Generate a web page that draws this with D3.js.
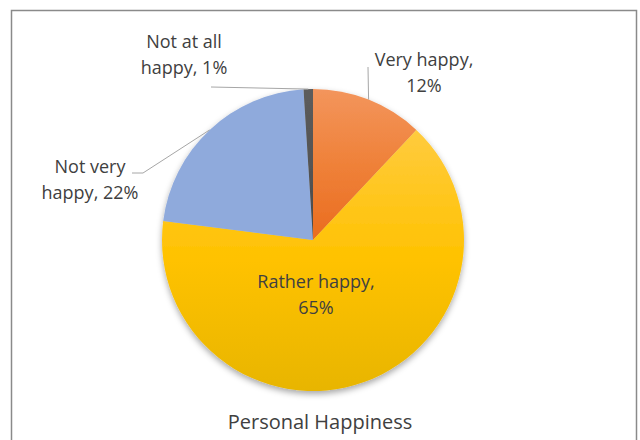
<!DOCTYPE html>
<html>
<head>
<meta charset="utf-8">
<script src="https://cdn.jsdelivr.net/npm/d3@7"></script>
<style>
  body { margin: 0; background: #fff; }
  text { font-family: "Open Sans", "Noto Sans", sans-serif; fill: #404040; }
</style>
</head>
<body>
<script>
const width = 640,
    height = 440;

// data
const categories = ['Very happy', 'Rather happy', 'Not very happy', 'Not at all happy'];
const values = [12, 65, 22, 1];
const labelLines = [
    ['Very happy,', '12%'],
    ['Rather happy,', '65%'],
    ['Not very', 'happy, 22%'],
    ['Not at all', 'happy, 1%']
];
const title = 'Personal Happiness';

// look
const cx = 313, cy = 240, radius = 151;
// gradient stops per slice (top, middle, bottom)
const fills = [
    ['#F3955C', '#EF8139', '#EA6C1F'],
    ['#FFCB3E', '#FFC200', '#E8B500'],
    ['#8FAADC', '#8FAADC', '#8FAADC'],
    ['#5C5C5C', '#545454', '#4A4A4A']
];
// label placement: text centre + elbow points for the leader line
const labelLayout = [
    { x: 424, y: 60, leader: [[368, 67]] },
    { x: 316, y: 282, leader: null },
    { x: 90, y: 167, leader: [[143, 173], [132, 173]] },
    { x: 184, y: 42, leader: [[211, 87]] }
];

const svg = d3.select('body')
    .append('svg')
    .attr('width', width)
    .attr('height', height);

const defs = svg.append('defs');

const shadow = defs.append('filter')
    .attr('id', 'shadow')
    .attr('x', '-20%').attr('y', '-20%')
    .attr('width', '140%').attr('height', '140%');
shadow.append('feDropShadow')
    .attr('dx', 0).attr('dy', 3)
    .attr('stdDeviation', 3)
    .attr('flood-color', '#000')
    .attr('flood-opacity', 0.35);

fills.forEach((f, i) => {
    const g = defs.append('linearGradient')
        .attr('id', `grad${i}`)
        .attr('x1', 0).attr('y1', 0)
        .attr('x2', 0).attr('y2', 1);
    g.selectAll('stop')
        .data(f)
        .join('stop')
        .attr('offset', (c, j) => `${j * 50}%`)
        .attr('stop-color', c => c);
});

// chart area border
svg.append('path')
    .attr('d', `M11.5,${height + 5}V10.5H636.5V${height + 5}`)
    .attr('fill', 'none')
    .attr('stroke', '#8a8a8a')
    .attr('stroke-width', 1.5);

const pie = d3.pie().sort(null).value(d => d);
const arcs = pie(values);

const arc = d3.arc().innerRadius(0).outerRadius(radius);

const g = svg.append('g')
    .attr('transform', `translate(${cx},${cy})`);

g.append('g')
    .attr('filter', 'url(#shadow)')
    .selectAll('path')
    .data(arcs)
    .join('path')
    .attr('d', arc)
    .attr('fill', (d, i) => `url(#grad${i})`);

// leader lines from the rim at the mid angle
const rim = d => {
    const a = (d.startAngle + d.endAngle) / 2;
    return [cx + radius * Math.sin(a), cy - radius * Math.cos(a)];
};

arcs.forEach((d, i) => {
    const lay = labelLayout[i];
    if (!lay.leader) return;
    const pts = [rim(d)].concat(lay.leader);
    svg.append('path')
        .attr('d', d3.line()(pts))
        .attr('fill', 'none')
        .attr('stroke', '#a6a6a6')
        .attr('stroke-width', 1);
});

arcs.forEach((d, i) => {
    const lay = labelLayout[i];
    const t = svg.append('text')
        .attr('text-anchor', 'middle')
        .attr('font-size', 18);
    labelLines[i].forEach((line, j) => {
        t.append('tspan')
            .attr('x', lay.x)
            .attr('y', lay.y + j * 25.5)
            .attr('dy', '0.35em')
            .text(line);
    });
});

svg.append('text')
    .attr('x', 320)
    .attr('y', 422)
    .attr('dy', '0.35em')
    .attr('text-anchor', 'middle')
    .attr('font-size', 20)
    .text(title);
</script>
</body>
</html>
